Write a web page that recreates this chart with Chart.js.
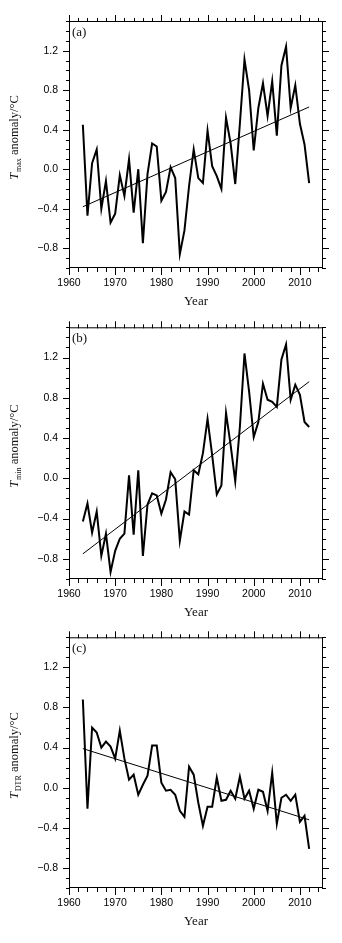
<!DOCTYPE html>
<html>
<head>
<meta charset="utf-8">
<script src="https://cdn.jsdelivr.net/npm/chart.js@4.4.1/dist/chart.umd.min.js"></script>
<style>
  html, body { margin: 0; padding: 0; background: #fff; }
  body { width: 342px; height: 943px; position: relative; overflow: hidden; }
  .panel { position: absolute; left: 0; width: 342px; }
  canvas { display: block; }
</style>
</head>
<body>
<div class="panel" style="top:0;height:310px"><canvas id="chart-a" width="342" height="310"></canvas></div>
<div class="panel" style="top:310px;height:310px"><canvas id="chart-b" width="342" height="310"></canvas></div>
<div class="panel" style="top:620px;height:323px"><canvas id="chart-c" width="342" height="323"></canvas></div>
<script>
// Data
const years = [1963, 1964, 1965, 1966, 1967, 1968, 1969, 1970, 1971, 1972,
  1973, 1974, 1975, 1976, 1977, 1978, 1979, 1980, 1981, 1982,
  1983, 1984, 1985, 1986, 1987, 1988, 1989, 1990, 1991, 1992,
  1993, 1994, 1995, 1996, 1997, 1998, 1999, 2000, 2001, 2002,
  2003, 2004, 2005, 2006, 2007, 2008, 2009, 2010, 2011, 2012];

const tmaxValues = [0.45, -0.47, 0.06, 0.20, -0.40, -0.12, -0.54, -0.45, -0.06, -0.27,
  0.10, -0.44, 0.00, -0.75, -0.05, 0.26, 0.23, -0.32, -0.23, 0.02,
  -0.09, -0.86, -0.62, -0.17, 0.20, -0.09, -0.14, 0.39, 0.03, -0.07,
  -0.20, 0.52, 0.26, -0.15, 0.46, 1.11, 0.80, 0.19, 0.62, 0.87,
  0.54, 0.89, 0.34, 1.05, 1.24, 0.62, 0.85, 0.46, 0.25, -0.14];

const tminValues = [-0.43, -0.25, -0.54, -0.33, -0.77, -0.55, -0.93, -0.72, -0.60, -0.55,
  0.03, -0.56, 0.08, -0.77, -0.26, -0.15, -0.17, -0.35, -0.21, 0.06,
  -0.01, -0.62, -0.33, -0.36, 0.08, 0.04, 0.25, 0.59, 0.23, -0.16,
  -0.07, 0.65, 0.33, -0.03, 0.51, 1.24, 0.86, 0.41, 0.56, 0.94,
  0.78, 0.76, 0.71, 1.18, 1.33, 0.78, 0.93, 0.83, 0.56, 0.51];

const dtrValues = [0.88, -0.21, 0.60, 0.55, 0.40, 0.46, 0.41, 0.29, 0.57, 0.29,
  0.08, 0.13, -0.07, 0.03, 0.12, 0.42, 0.42, 0.05, -0.03, -0.02,
  -0.07, -0.23, -0.29, 0.21, 0.13, -0.15, -0.38, -0.19, -0.19, 0.10,
  -0.13, -0.12, -0.03, -0.11, 0.11, -0.11, -0.03, -0.21, -0.02, -0.04,
  -0.23, 0.15, -0.36, -0.10, -0.07, -0.13, -0.07, -0.34, -0.28, -0.61];

// linear trend end points
const trendYears = [1963, 2012];
const tmaxTrend = [-0.38, 0.63];
const tminTrend = [-0.75, 0.96];
const dtrTrend = [0.39, -0.32];

// axis ticks
const xMajorTicks = [1960, 1970, 1980, 1990, 2000, 2010];
const xMinorTicks = [1962, 1964, 1966, 1968, 1972, 1974, 1976, 1978, 1982, 1984, 1986, 1988,
  1992, 1994, 1996, 1998, 2002, 2004, 2006, 2008, 2012, 2014];
const yMajorTicks = [-0.8, -0.4, 0.0, 0.4, 0.8, 1.2];
const yMinorTicks = [-1.0, -0.9, -0.7, -0.6, -0.5, -0.3, -0.2, -0.1, 0.1, 0.2, 0.3,
  0.5, 0.6, 0.7, 0.9, 1.0, 1.1, 1.3, 1.4, 1.5];

const SERIF = '"Liberation Serif", "Times New Roman", serif';
const SANS = '"Liberation Sans", Arial, Helvetica, sans-serif';

// Frame, outward tick marks, panel letter and axis titles
const framePlugin = {
  id: 'frame',
  afterDraw(chart, args, opts) {
    const { ctx, chartArea: a, scales: { x, y } } = chart;
    ctx.save();
    ctx.strokeStyle = '#000';
    ctx.lineWidth = 1;
    ctx.strokeRect(a.left + 0.5, a.top + 0.5, a.right - a.left - 1, a.bottom - a.top - 1);

    ctx.beginPath();
    const xTick = (v, len) => {
      const px = Math.round(x.getPixelForValue(v)) + 0.5;
      ctx.moveTo(px, a.bottom);
      ctx.lineTo(px, a.bottom + len);
      ctx.moveTo(px, a.top + 1);
      ctx.lineTo(px, a.top + 1 - len);
    };
    const yTick = (v, len) => {
      const py = Math.round(y.getPixelForValue(v)) + 0.5;
      ctx.moveTo(a.left + 1, py);
      ctx.lineTo(a.left + 1 - len, py);
      ctx.moveTo(a.right - 1, py);
      ctx.lineTo(a.right - 1 + len, py);
    };
    xMajorTicks.forEach(v => xTick(v, 7));
    xMinorTicks.forEach(v => xTick(v, 4));
    yMajorTicks.forEach(v => yTick(v, 7));
    yMinorTicks.forEach(v => yTick(v, 4));
    ctx.stroke();

    ctx.fillStyle = '#111';
    ctx.textAlign = 'left';
    ctx.textBaseline = 'alphabetic';
    ctx.font = '13px ' + SERIF;
    ctx.fillText(opts.label, a.left + 3, a.top + 15);

    ctx.textAlign = 'center';
    ctx.textBaseline = 'middle';
    ctx.fillText('Year', (a.left + a.right) / 2, a.bottom + 34);

    // y axis title: T with subscript, rotated
    const mainFont = '12.5px ' + SERIF;
    const italicFont = 'italic 12.5px ' + SERIF;
    const subFont = '8px ' + SERIF;
    ctx.font = italicFont;
    const wT = ctx.measureText('T').width;
    ctx.font = subFont;
    const wSub = ctx.measureText(opts.sub).width;
    ctx.font = mainFont;
    const rest = ' anomaly/°C';
    const wRest = ctx.measureText(rest).width;
    const total = wT + 1 + wSub + wRest;

    ctx.translate(15, (a.top + a.bottom) / 2 - 7);
    ctx.rotate(-Math.PI / 2);
    ctx.textAlign = 'left';
    ctx.textBaseline = 'middle';
    let cx = -total / 2;
    ctx.font = italicFont;
    ctx.fillText('T', cx, 0);
    cx += wT + 1;
    ctx.font = subFont;
    ctx.fillText(opts.sub, cx, 4);
    cx += wSub;
    ctx.font = mainFont;
    ctx.fillText(rest, cx, 0);
    ctx.restore();
  }
};

function makeChart(canvasId, values, trend, label, sub, top, bottom) {
  const canvas = document.getElementById(canvasId);
  const height = canvas.height;
  return new Chart(canvas, {
    type: 'line',
    data: {
      datasets: [{
        data: years.map((yr, i) => ({ x: yr, y: values[i] })),
        borderColor: '#000',
        borderWidth: 2,
        pointRadius: 0,
        tension: 0
      }, {
        data: trendYears.map((yr, i) => ({ x: yr, y: trend[i] })),
        borderColor: '#000',
        borderWidth: 1,
        pointRadius: 0,
        tension: 0
      }]
    },
    options: {
      responsive: false,
      animation: false,
      devicePixelRatio: 1,
      layout: { padding: { left: 0, right: 342 - 323, top: top, bottom: 0 } },
      plugins: {
        legend: { display: false },
        tooltip: { enabled: false },
        frame: { label: label, sub: sub }
      },
      scales: {
        x: {
          type: 'linear',
          min: 1960,
          max: 2015,
          grid: { display: false, drawTicks: false },
          border: { display: false },
          afterBuildTicks: scale => { scale.ticks = xMajorTicks.map(v => ({ value: v })); },
          afterFit: scale => { scale.height = height - bottom; },
          ticks: {
            color: '#000',
            font: { family: SANS, size: 10.5 },
            padding: 9,
            maxRotation: 0,
            autoSkip: false,
            callback: v => String(v)
          }
        },
        y: {
          min: -1.0,
          max: 1.5,
          grid: { display: false, drawTicks: false },
          border: { display: false },
          afterBuildTicks: scale => { scale.ticks = yMajorTicks.map(v => ({ value: v })); },
          afterFit: scale => { scale.width = 69; },
          ticks: {
            color: '#000',
            font: { family: SANS, size: 10.5 },
            padding: 11,
            autoSkip: false,
            callback: v => (v < 0 ? '\u2212' : '') + Math.abs(v).toFixed(1)
          }
        }
      }
    },
    plugins: [framePlugin]
  });
}

makeChart('chart-a', tmaxValues, tmaxTrend, '(a)', 'max', 21, 268);
makeChart('chart-b', tminValues, tminTrend, '(b)', 'min', 13, 269);
makeChart('chart-c', dtrValues, dtrTrend, '(c)', 'DTR', 13, 268);
</script>
</body>
</html>
